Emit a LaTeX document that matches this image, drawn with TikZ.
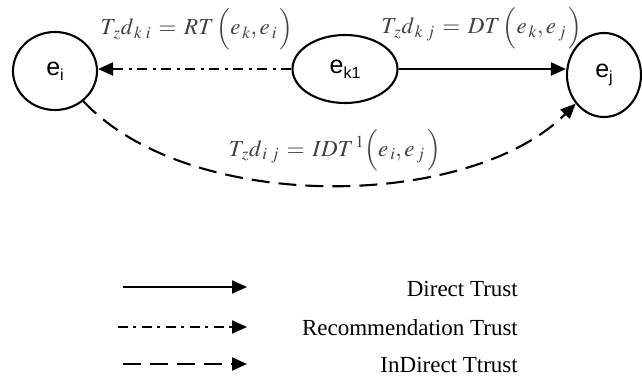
\documentclass[tikz,border=0pt]{standalone}
\usepackage{mathptmx}
\usepackage{fontspec}
\setmainfont{Liberation Serif}
\newfontfamily\nodefont{Liberation Sans}
\usetikzlibrary{arrows.meta,shapes.geometric}
\newcommand{\sbs}[1]{\raisebox{-5pt}{\fontsize{16}{17}\selectfont #1}}
\begin{document}
\begin{tikzpicture}[x=1pt,y=-1pt,
  ent/.style={draw, ellipse, line width=2.1pt, inner sep=0pt, font=\nodefont\fontsize{25}{27}\selectfont},
  conn/.style={line width=2.1pt, -{Triangle[length=15pt,width=13pt]}},
  dd/.style={dash pattern=on 10pt off 5pt on 3pt off 6pt},
  ds/.style={dash pattern=on 18pt off 9pt},
  lbl/.style={text=black!75, font=\fontsize{23}{25}\selectfont, inner sep=0pt, anchor=base},
  leg/.style={font=\fontsize{23}{26}\selectfont, anchor=base east, inner sep=0pt}]
\useasboundingbox (0,0) rectangle (642,377);

\node[ent, minimum width=84pt, minimum height=78pt] (ei) at (55,71) {e\sbs{i}};
\node[ent, minimum width=105pt, minimum height=68pt] (ek) at (345,69) {e\sbs{k1}};
\node[ent, minimum width=74pt, minimum height=84pt] (ej) at (604,75) {e\sbs{j}};

\draw[conn] (ek.east) -- (ek.east -| ej.west);
\draw[conn, dd] (ek.west) -- (ek.west -| ei.east);
\draw[conn, ds] (ei) .. controls (190,215) and (470,210) .. (ej);

\node[lbl] (lrt) at (197,35) {$T_{\,z}d_{\,k\;i}\,=\,RT\,\Big(e_{\,k},e_{\,i}\,\Big)$};
\node[lbl] (ldt) at (482,34) {$T_{\,z}d_{\,k\;j}\,=\,DT\,\Big(e_{\,k},e_{\,j}\,\Big)$};
\node[lbl] (lidt) at (335,156) {$T_{\,z}d_{\,i\;j}\,=\,IDT^{\,1}\Big(e_{\,i},e_{\,j}\,\Big)$};

\coordinate (a1) at (123,287); \coordinate (b1) at (247,287);
\coordinate (a2) at (118,327); \coordinate (b2) at (247,327);
\coordinate (a3) at (123,364); \coordinate (b3) at (247,364);
\draw[conn] (a1) -- (b1);
\draw[conn, dd] (a2) -- (b2);
\draw[conn, ds] (a3) -- (b3);

\node[leg] (t1) at (518,296) {Direct Trust};
\node[leg] (t2) at (518,335) {Recommendation Trust};
\node[leg] (t3) at (518,372) {InDirect Ttrust};
\end{tikzpicture}
\end{document}
